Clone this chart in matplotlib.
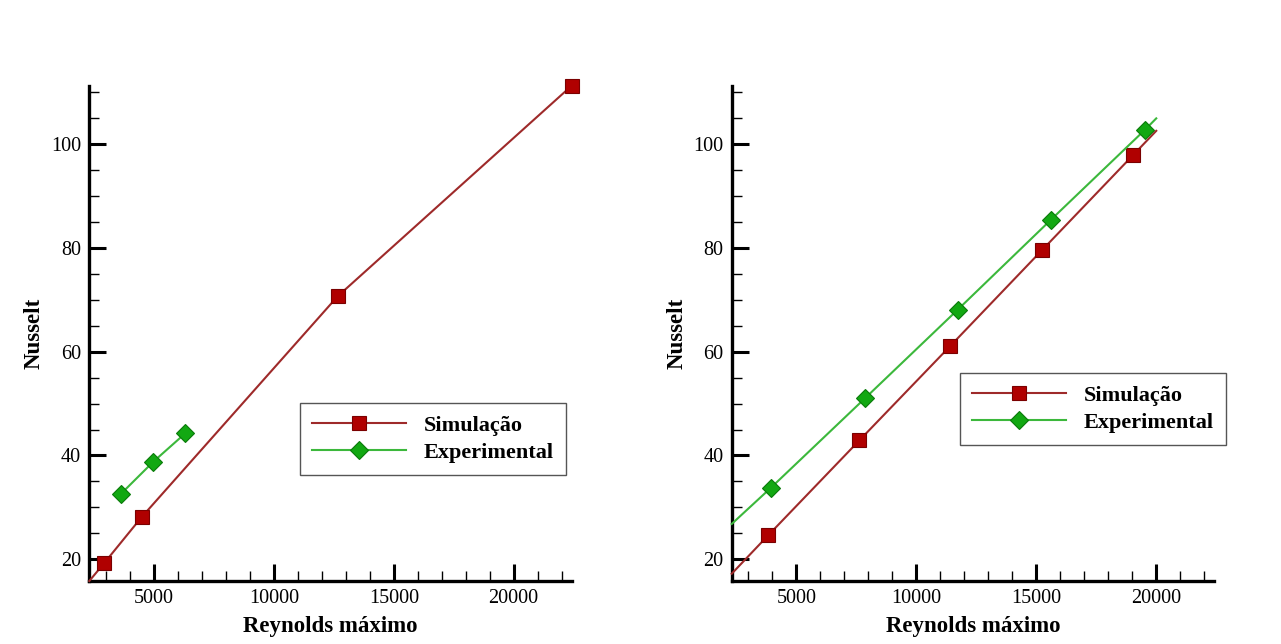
import numpy as np
import matplotlib
matplotlib.use("Agg")
import matplotlib.pyplot as plt
from matplotlib.ticker import MultipleLocator

plt.rcParams['font.family'] = ['Liberation Serif', 'DejaVu Serif']

# caso A: simulação (linha passa por pontos sem símbolo nas pontas / joelho)
re_sim_a = [2300, 2930, 4480, 12660, 17300, 22420]
nu_sim_a = [15.8, 19.3, 28.1, 70.7, 90.0, 111.3]
marc_sim_a = [1, 2, 3, 5]
re_exp_a = [3620, 4970, 6310]
nu_exp_a = [32.6, 38.8, 44.3]

# caso B
re_sim_b = [2300, 3820, 7620, 11410, 15240, 19030, 20000]
nu_sim_b = [17.2, 24.6, 42.9, 61.1, 79.6, 97.9, 102.6]
re_exp_b = [2300, 3940, 7850, 11720, 15620, 19530, 20000]
nu_exp_b = [26.8, 33.8, 51.0, 68.1, 85.5, 102.8, 105.0]
marc_b = [1, 2, 3, 4, 5]

x_ticks = [5000, 10000, 15000, 20000]
y_ticks = [20, 40, 60, 80, 100]
xlim = (2300, 22420)
ylim = (15.8, 111.3)

cor_sim = "#9e2a2a"
cor_exp = "#3cb83c"

W, H = 1281, 644
fig = plt.figure(figsize=(W / 100, H / 100), dpi=100)


def eixo(x0, x1, y0, y1):
    # caixa do eixo em pixels (topo = y0)
    return fig.add_axes([x0 / W, 1 - y1 / H, (x1 - x0) / W, (y1 - y0) / H])


def desenha(ax, re_s, nu_s, mk_s, re_e, nu_e, mk_e, leg_xy):
    ax.plot(re_s, nu_s, color=cor_sim, lw=1.5, marker="s", markevery=mk_s,
            ms=10, mfc="#b00000", mec="#7a0000", mew=0.8, label="Simulação",
            clip_on=False, zorder=3)
    ax.plot(re_e, nu_e, color=cor_exp, lw=1.5, marker="D", markevery=mk_e,
            ms=9.5, mfc="#12a812", mec="#0a7a0a", mew=0.8, label="Experimental",
            clip_on=False, zorder=3)

    ax.set_xlim(*xlim)
    ax.set_ylim(*ylim)
    ax.set_xticks(x_ticks)
    ax.set_yticks(y_ticks)
    ax.xaxis.set_minor_locator(MultipleLocator(1000))
    ax.yaxis.set_minor_locator(MultipleLocator(5))
    ax.tick_params(which="major", direction="in", length=12, width=2.2,
                   labelsize=14.5, pad=6)
    ax.tick_params(which="minor", direction="in", length=7, width=1.0)

    for s in ["top", "right"]:
        ax.spines[s].set_visible(False)
    for s in ["left", "bottom"]:
        ax.spines[s].set_linewidth(2.4)

    ax.set_xlabel("Reynolds máximo", fontsize=16.5, fontweight="bold")
    ax.set_ylabel("Nusselt", fontsize=16.5, fontweight="bold")
    ax.xaxis.set_label_coords(0.5, -0.07)
    ax.yaxis.set_label_coords(-0.092, 0.5)

    leg = ax.legend(loc="upper left", bbox_to_anchor=(leg_xy[0] / W, 1 - leg_xy[1] / H),
                    bbox_transform=fig.transFigure, borderaxespad=0,
                    numpoints=1, handlelength=4.2, handletextpad=0.8,
                    labelspacing=0.3, borderpad=0.55, fancybox=False,
                    framealpha=1, edgecolor="#555555",
                    prop={"size": 16, "weight": "bold"})
    leg.get_frame().set_linewidth(1.0)


ax1 = eixo(89.3, 571.7, 85.7, 581)
desenha(ax1, re_sim_a, nu_sim_a, marc_sim_a, re_exp_a, nu_exp_a, None, (300, 403))

ax2 = eixo(731.7, 1214.3, 85.7, 581)
desenha(ax2, re_sim_b, nu_sim_b, marc_b, re_exp_b, nu_exp_b, marc_b, (960, 373))

plt.savefig("out.png", dpi=100)
